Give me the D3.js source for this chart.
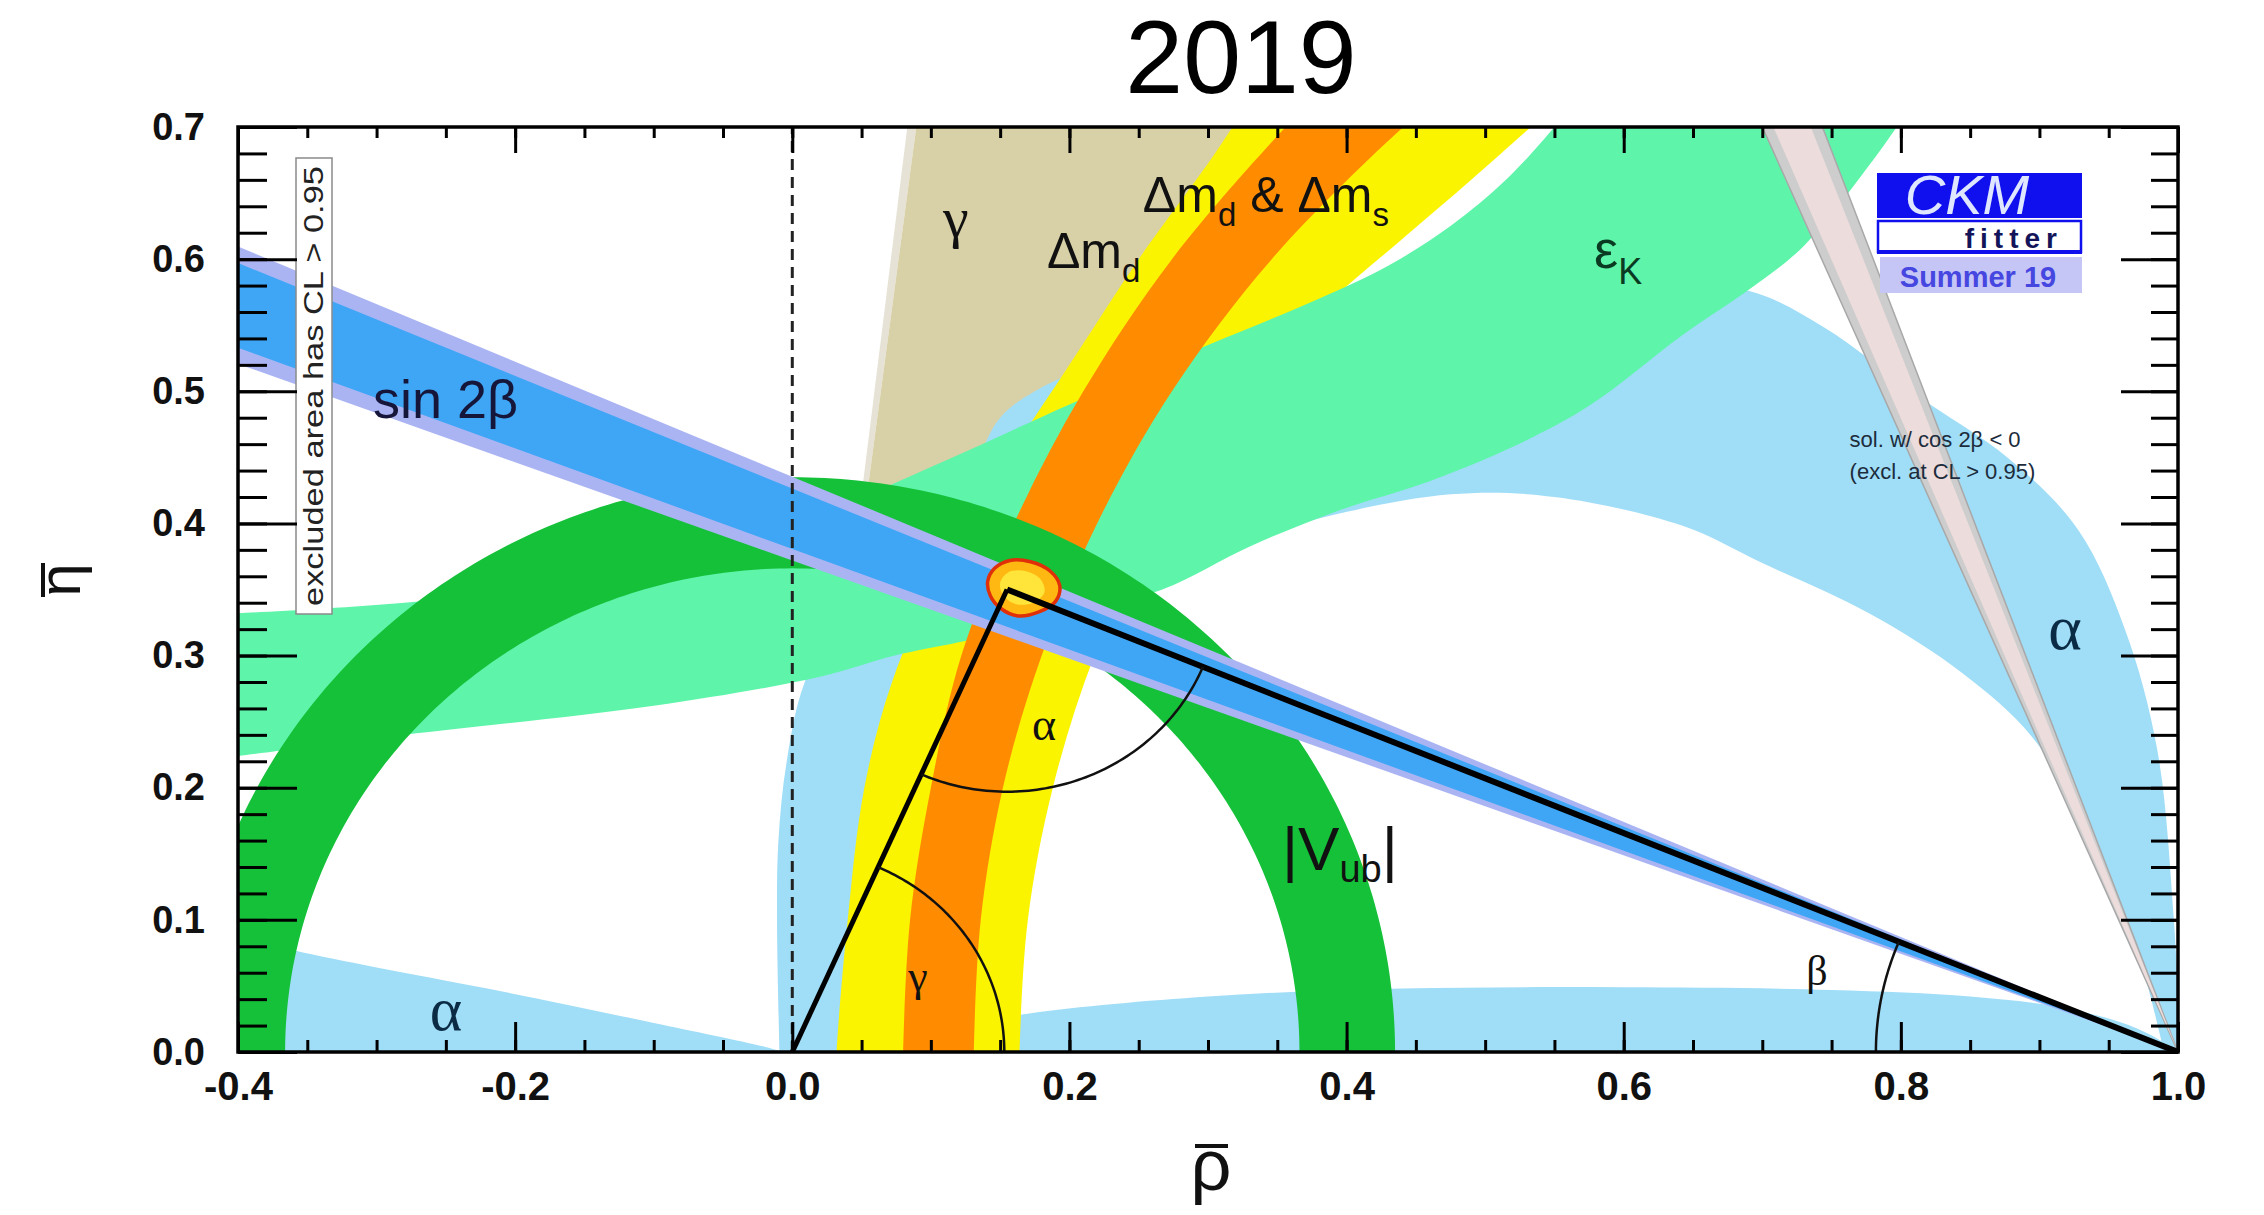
<!DOCTYPE html>
<html>
<head>
<meta charset="utf-8">
<script src="https://cdn.jsdelivr.net/npm/d3@7"></script>
<style>
  body { margin: 0; background: #fff; }
  text { font-family: "Liberation Sans", Arial, Helvetica, sans-serif; }
  .serif { font-family: "Liberation Serif", "DejaVu Serif", serif; }
</style>
</head>
<body>
<svg id="chart" width="2264" height="1215"></svg>
<script>
// ---------- axis ranges and ticks ----------
const rhoDomain = [-0.4, 1.0];
const etaDomain = [0.0, 0.7];
const rhoMajorTicks = [-0.4, -0.2, 0.0, 0.2, 0.4, 0.6, 0.8, 1.0];
const etaMajorTicks = [0.0, 0.1, 0.2, 0.3, 0.4, 0.5, 0.6, 0.7];
const rhoMinorStep = 0.05;
const etaMinorStep = 0.02;

// ---------- unitarity triangle ----------
const apex = [0.155, 0.350];
const triangleBase = [[0, 0], [1, 0]];

// ---------- |Vub| ring centred on the origin: inner / outer radius ----------
const vubCentre = [0, 0];
const vubRadii = [0.366, 0.435];

// ---------- Δm_d band edges ----------
const dmdLeft = [[0.032, -0.01], [0.032, 0.0], [0.040, 0.10], [0.052, 0.20], [0.072, 0.28], [0.105, 0.36],
  [0.150, 0.44], [0.200, 0.52], [0.250, 0.60], [0.305, 0.68], [0.330, 0.72]];
const dmdRight = [[0.164, -0.01], [0.164, 0.0], [0.170, 0.10], [0.188, 0.20], [0.218, 0.30], [0.262, 0.40],
  [0.323, 0.50], [0.390, 0.57], [0.440, 0.615], [0.490, 0.66], [0.533, 0.70], [0.555, 0.72]];

// ---------- Δm_d & Δm_s band edges ----------
const dmsLeft = [[0.080, -0.01], [0.080, 0.0], [0.085, 0.10], [0.100, 0.20], [0.122, 0.30], [0.160, 0.40],
  [0.210, 0.50], [0.274, 0.60], [0.356, 0.70], [0.375, 0.72]];
const dmsRight = [[0.131, -0.01], [0.131, 0.0], [0.136, 0.10], [0.152, 0.20], [0.180, 0.30], [0.220, 0.40],
  [0.274, 0.50], [0.346, 0.60], [0.441, 0.70], [0.465, 0.72]];

// ---------- sin 2β wedge: edges from (1,0) to the left border ----------
const sin2bOuterEdge = [[[1, 0], [-0.4, 0.6095]], [[1, 0], [-0.4, 0.5207]]];
const sin2bInnerEdge = [[[1, 0], [-0.4, 0.597]], [[1, 0], [-0.4, 0.533]]];

// second sin 2β solution (cos 2β < 0), edges from (1,0) to the top border
const cos2bOuterEdge = [[[1, 0], [0.700, 0.7]], [[1, 0], [0.7434, 0.7]]];
const cos2bInnerEdge = [[[1, 0], [0.708, 0.7]], [[1, 0], [0.735, 0.7]]];

// ---------- γ wedge from the origin ----------
const gammaHaloEdge = [[[0, 0], [0.083, 0.7]], [[0, 0], [0.0895, 0.7]]];
const gammaEdge = [[[0, 0], [0.0895, 0.7]], [[0, 0], [0.35, 0.7]]];

// ---------- ε_K band ----------
const epsLower = [[-0.42, 0.222], [-0.4, 0.224], [-0.28, 0.240], [-0.1, 0.262], [0.02, 0.284],
  [0.074, 0.300], [0.12, 0.310], [0.2, 0.330], [0.267, 0.350], [0.331, 0.383], [0.395, 0.410],
  [0.46, 0.432], [0.52, 0.458], [0.575, 0.489], [0.643, 0.543], [0.693, 0.579], [0.73, 0.61],
  [0.78, 0.675], [0.81, 0.72]];
const epsUpper = [[-0.42, 0.331], [-0.4, 0.332], [-0.28, 0.340], [-0.15, 0.355], [-0.05, 0.38],
  [0.05, 0.42], [0.12, 0.452], [0.2, 0.49], [0.3, 0.535], [0.38, 0.57], [0.43, 0.595],
  [0.475, 0.625], [0.515, 0.66], [0.55, 0.70], [0.565, 0.72]];

// ---------- α regions ----------
const alphaArcOuter = [[-0.009, -0.01], [-0.011, 0.10], [-0.010, 0.16], [-0.004, 0.22], [0.009, 0.28],
  [0.04, 0.34], [0.09, 0.40], [0.131, 0.446], [0.150, 0.48], [0.175, 0.50], [0.24, 0.53], [0.30, 0.55],
  [0.42, 0.575], [0.50, 0.58], [0.60, 0.582], [0.69, 0.576], [0.745, 0.548], [0.81, 0.498],
  [0.878, 0.449], [0.928, 0.395], [0.962, 0.319], [0.985, 0.229], [0.997, 0.10], [1.002, -0.01]];
const alphaArcInner = [[0.035, -0.01], [0.045, 0.10], [0.075, 0.20], [0.175, 0.30], [0.246, 0.35],
  [0.31, 0.38], [0.366, 0.40], [0.475, 0.422], [0.55, 0.42], [0.643, 0.398], [0.70, 0.37],
  [0.777, 0.332], [0.844, 0.287], [0.895, 0.238], [0.938, 0.161], [0.972, 0.072], [0.992, -0.01]];
const alphaLowLeftTop = [[-0.42, 0.092], [-0.4, 0.088], [-0.36, 0.077], [-0.3, 0.064], [-0.22, 0.048],
  [-0.1, 0.022], [-0.02, 0.004], [0.0, -0.002]];
const alphaLowLeftBottom = [[-0.42, -0.01], [0.0, -0.01]];
const alphaLowRightTop = [[0.03, -0.005], [0.10, 0.015], [0.17, 0.029], [0.30, 0.042], [0.44, 0.048],
  [0.60, 0.049], [0.75, 0.047], [0.85, 0.042], [0.92, 0.033], [0.97, 0.018], [1.0, 0.0], [1.01, -0.01]];
const alphaLowRightBottom = [[0.03, -0.01], [1.01, -0.01]];

// ---------- global fit region around the apex ----------
const fitOuter = [[0.141, 0.356], [0.146, 0.366], [0.157, 0.372], [0.172, 0.371], [0.186, 0.364],
  [0.193, 0.353], [0.190, 0.341], [0.178, 0.333], [0.163, 0.330], [0.150, 0.336], [0.143, 0.345]];
const fitInner = [[0.150, 0.355], [0.156, 0.363], [0.168, 0.364], [0.179, 0.358], [0.182, 0.348],
  [0.174, 0.340], [0.161, 0.339], [0.152, 0.346]];

// ---------- angle markers (radius in ρ-η units) ----------
const angleRadius = { gamma: 0.153, alpha: 0.153, beta: 0.218 };

// ---------- colours ----------
const col = {
  gamma: "#d8d0a6", gammaHalo: "#e6e3d6",
  alpha: "#a0ddf7",
  dmd: "#fbf400", dms: "#ff8c00",
  eps: "#5ef5aa",
  vub: "#16c13a",
  sinOuter: "#aab4f3", sinInner: "#3fa6f6",
  cosOuter: "#cdcdcd", cosInner: "#ecdcdc",
  fitOuter: "#ffb812", fitLine: "#e0300a", fitInner: "#ffe43a"
};

// ---------- layout ----------
const X0 = 238, X1 = 2178, Y0 = 1052, Y1 = 127;
const x = d3.scaleLinear().domain(rhoDomain).range([X0, X1]);
const y = d3.scaleLinear().domain(etaDomain).range([Y0, Y1]);

const svg = d3.select("#chart");
svg.append("rect").attr("width", 2264).attr("height", 1215).attr("fill", "#fff");
svg.append("defs").append("clipPath").attr("id", "plotClip")
  .append("rect").attr("x", X0).attr("y", Y1).attr("width", X1 - X0).attr("height", Y0 - Y1);
const plot = svg.append("g").attr("clip-path", "url(#plotClip)");

const smooth = d3.line().x(d => x(d[0])).y(d => y(d[1])).curve(d3.curveCatmullRom.alpha(0.5));
const straight = d3.line().x(d => x(d[0])).y(d => y(d[1]));
const closedSmooth = d3.line().x(d => x(d[0])).y(d => y(d[1])).curve(d3.curveCatmullRomClosed.alpha(0.5));

// closed area between two edges
function band(edgeA, edgeB, gen) {
  const a = gen(edgeA);
  const b = gen(edgeB.slice().reverse());
  return a + "L" + b.slice(1) + "Z";
}
function arcPoints(c, r, t0, t1, n) {
  return d3.range(n + 1).map(i => {
    const t = t0 + (t1 - t0) * i / n;
    return [c[0] + r * Math.cos(t), c[1] + r * Math.sin(t)];
  });
}
function ring(c, radii, t0, t1) {
  return band(arcPoints(c, radii[1], t0, t1, 240), arcPoints(c, radii[0], t0, t1, 240), straight);
}

// γ
plot.append("path").attr("d", band(gammaHaloEdge[0], gammaHaloEdge[1], straight)).attr("fill", col.gammaHalo);
plot.append("path").attr("d", band(gammaEdge[0], gammaEdge[1], straight)).attr("fill", col.gamma);
// α
plot.append("path").attr("d", band(alphaArcOuter, alphaArcInner, smooth)).attr("fill", col.alpha);
plot.append("path").attr("d", band(alphaLowLeftTop, alphaLowLeftBottom, smooth)).attr("fill", col.alpha);
plot.append("path").attr("d", band(alphaLowRightTop, alphaLowRightBottom, smooth)).attr("fill", col.alpha);
// Δm_d
plot.append("path").attr("d", band(dmdLeft, dmdRight, smooth)).attr("fill", col.dmd);
// ε_K
plot.append("path").attr("d", band(epsLower, epsUpper, smooth)).attr("fill", col.eps);
// Δm_d & Δm_s
plot.append("path").attr("d", band(dmsLeft, dmsRight, smooth)).attr("fill", col.dms);
// |Vub|
plot.append("path").attr("d", ring(vubCentre, vubRadii, -0.05, Math.PI + 0.05)).attr("fill", col.vub);
// cos 2β < 0 solution
plot.append("path").attr("d", band(cos2bOuterEdge[0], cos2bOuterEdge[1], straight))
  .attr("fill", col.cosOuter).attr("stroke", "#a8a8a8").attr("stroke-width", 1.5);
plot.append("path").attr("d", band(cos2bInnerEdge[0], cos2bInnerEdge[1], straight)).attr("fill", col.cosInner);
// sin 2β
plot.append("path").attr("d", band(sin2bOuterEdge[0], sin2bOuterEdge[1], straight)).attr("fill", col.sinOuter);
plot.append("path").attr("d", band(sin2bInnerEdge[0], sin2bInnerEdge[1], straight)).attr("fill", col.sinInner);
// global fit
plot.append("path").attr("d", closedSmooth(fitOuter)).attr("fill", col.fitOuter)
  .attr("stroke", col.fitLine).attr("stroke-width", 3.5);
plot.append("path").attr("d", closedSmooth(fitInner)).attr("fill", col.fitInner);

// ρ = 0 dashed line
plot.append("line").attr("x1", x(0)).attr("x2", x(0)).attr("y1", y(0)).attr("y2", y(0.7))
  .attr("stroke", "#222").attr("stroke-width", 3).attr("stroke-dasharray", "11 7");

// triangle
plot.append("path").attr("d", straight([triangleBase[0], apex])).attr("stroke", "#000").attr("stroke-width", 5).attr("fill", "none");
plot.append("path").attr("d", straight([apex, triangleBase[1]])).attr("stroke", "#000").attr("stroke-width", 6).attr("fill", "none");

// angle markers
const dirToApexFromO = Math.atan2(apex[1], apex[0]);
const dirApexToO = Math.atan2(-apex[1], -apex[0]);
const dirApexToOne = Math.atan2(-apex[1], 1 - apex[0]);
const dirOneToApex = Math.atan2(apex[1], apex[0] - 1);
const arcLine = pts => plot.append("path").attr("d", straight(pts)).attr("fill", "none")
  .attr("stroke", "#111").attr("stroke-width", 2.5);
arcLine(arcPoints(triangleBase[0], angleRadius.gamma, 0, dirToApexFromO, 80));
arcLine(arcPoints(apex, angleRadius.alpha, dirApexToO, dirApexToOne, 80));
arcLine(arcPoints(triangleBase[1], angleRadius.beta, dirOneToApex, Math.PI, 60));

// ---------- constraint labels ----------
const lab = svg.append("g");
function addText(rho, eta, str, size, opts = {}) {
  const t = lab.append("text").attr("x", x(rho)).attr("y", y(eta)).attr("font-size", size)
    .attr("fill", opts.fill || "#111").attr("text-anchor", opts.anchor || "start");
  if (opts.serif) t.attr("class", "serif");
  if (str) t.text(str);
  return t;
}
addText(-0.3026, 0.4798, "sin 2β", 54, { fill: "#16163a" });
addText(0.118, 0.6168, "γ", 58, { anchor: "middle", serif: true });
{
  const t = addText(0.253, 0.6357, "", 50);
  t.append("tspan").text("Δm");
  t.append("tspan").attr("font-size", 33).attr("dy", 14).text("d");
  t.append("tspan").attr("dy", -14).text(" & Δm");
  t.append("tspan").attr("font-size", 33).attr("dy", 14).text("s");
}
{
  const t = addText(0.1838, 0.5933, "", 50);
  t.append("tspan").text("Δm");
  t.append("tspan").attr("font-size", 33).attr("dy", 14).text("d");
}
{
  const t = addText(0.5786, 0.593, "", 54, { fill: "#0b3a22" });
  t.append("tspan").text("ε");
  t.append("tspan").attr("font-size", 36).attr("dy", 16).text("K");
}
{
  const t = addText(0.3534, 0.1377, "", 62);
  t.append("tspan").text("|V");
  t.append("tspan").attr("font-size", 38).attr("dy", 12).text("ub");
  t.append("tspan").attr("dy", -12).text("|");
}
addText(0.9185, 0.305, "α", 64, { anchor: "middle", serif: true, fill: "#0b2a44" });
addText(-0.2499, 0.0166, "α", 62, { anchor: "middle", serif: true, fill: "#0b2a44" });
addText(0.1817, 0.236, "α", 46, { anchor: "middle", serif: true });
addText(0.0907, 0.046, "γ", 44, { anchor: "middle", serif: true });
addText(0.7395, 0.0507, "β", 42, { anchor: "middle", serif: true });
addText(0.763, 0.4578, "sol. w/ cos 2β < 0", 22, { fill: "#1c2c3c" });
addText(0.763, 0.4336, "(excl. at CL > 0.95)", 22, { fill: "#1c2c3c" });

// excluded-area note in a rotated box
const note = svg.append("g").attr("transform", "translate(314,386) rotate(-90)");
note.append("rect").attr("x", -228).attr("y", -18).attr("width", 456).attr("height", 36)
  .attr("fill", "#fff").attr("stroke", "#8a8a8a").attr("stroke-width", 1.5);
note.append("text").attr("x", 0).attr("y", 9).attr("text-anchor", "middle").attr("font-size", 27)
  .attr("textLength", 440).attr("lengthAdjust", "spacingAndGlyphs").attr("fill", "#222")
  .text("excluded area has CL > 0.95");

// CKMfitter badge
const logo = svg.append("g");
logo.append("rect").attr("x", 1877).attr("y", 173).attr("width", 205).attr("height", 45).attr("fill", "#1010ee");
logo.append("text").attr("x", 1967).attr("y", 214).attr("text-anchor", "middle").attr("font-size", 56)
  .attr("font-style", "italic").attr("fill", "#dfe6ff").text("CKM");
logo.append("rect").attr("x", 1878).attr("y", 221).attr("width", 203).attr("height", 31)
  .attr("fill", "#fff").attr("stroke", "#1010ee").attr("stroke-width", 2.5);
logo.append("line").attr("x1", 1877).attr("x2", 2082).attr("y1", 252).attr("y2", 252)
  .attr("stroke", "#1010ee").attr("stroke-width", 4);
logo.append("text").attr("x", 2063).attr("y", 248).attr("text-anchor", "end").attr("font-size", 28)
  .attr("font-weight", "bold").attr("letter-spacing", 6).attr("fill", "#14145a").text("fitter");
logo.append("rect").attr("x", 1880).attr("y", 257).attr("width", 202).attr("height", 36).attr("fill", "#c6c6f6");
logo.append("text").attr("x", 1978).attr("y", 287).attr("text-anchor", "middle").attr("font-size", 29)
  .attr("font-weight", "bold").attr("fill", "#4646e0").text("Summer 19");

// ---------- frame and axes ----------
const rhoMinor = d3.range(rhoDomain[0], rhoDomain[1] + 1e-6, rhoMinorStep).map(v => +v.toFixed(2));
const etaMinor = d3.range(etaDomain[0], etaDomain[1] + 1e-6, etaMinorStep).map(v => +v.toFixed(2));
const fmt = d => d.toFixed(1);

function tidy(g) {
  g.select(".domain").remove();
  g.selectAll(".tick line").attr("stroke", "#000").attr("stroke-width", 3);
  g.selectAll(".tick text").attr("font-weight", "bold").attr("fill", "#111")
    .attr("font-family", "'Liberation Sans', Arial, sans-serif");
}
const axes = svg.append("g");
axes.append("g").attr("transform", `translate(0,${Y0})`)
  .call(d3.axisBottom(x).tickValues(rhoMinor).tickSize(-12).tickFormat("")).call(tidy);
axes.append("g").attr("transform", `translate(0,${Y0})`)
  .call(d3.axisBottom(x).tickValues(rhoMajorTicks).tickSize(-30).tickPadding(20).tickFormat(fmt))
  .call(tidy).selectAll(".tick text").attr("font-size", 40);
axes.append("g").attr("transform", `translate(0,${Y1})`)
  .call(d3.axisTop(x).tickValues(rhoMinor).tickSize(-11).tickFormat("")).call(tidy);
axes.append("g").attr("transform", `translate(0,${Y1})`)
  .call(d3.axisTop(x).tickValues(rhoMajorTicks).tickSize(-26).tickFormat("")).call(tidy);
axes.append("g").attr("transform", `translate(${X0},0)`)
  .call(d3.axisLeft(y).tickValues(etaMinor).tickSize(-29).tickFormat("")).call(tidy);
axes.append("g").attr("transform", `translate(${X0},0)`)
  .call(d3.axisLeft(y).tickValues(etaMajorTicks).tickSize(-59).tickPadding(33).tickFormat(fmt))
  .call(tidy).selectAll(".tick text").attr("font-size", 38);
axes.append("g").attr("transform", `translate(${X1},0)`)
  .call(d3.axisRight(y).tickValues(etaMinor).tickSize(-27).tickFormat("")).call(tidy);
axes.append("g").attr("transform", `translate(${X1},0)`)
  .call(d3.axisRight(y).tickValues(etaMajorTicks).tickSize(-57).tickFormat("")).call(tidy);
axes.append("rect").attr("x", X0).attr("y", Y1).attr("width", X1 - X0).attr("height", Y0 - Y1)
  .attr("fill", "none").attr("stroke", "#000").attr("stroke-width", 3.5);

// axis titles
svg.append("text").attr("x", 1211).attr("y", 1190).attr("text-anchor", "middle").attr("font-size", 72)
  .attr("fill", "#111").text("ρ");
svg.append("line").attr("x1", 1195).attr("x2", 1228).attr("y1", 1146).attr("y2", 1146)
  .attr("stroke", "#111").attr("stroke-width", 4);
const etaTitle = svg.append("g").attr("transform", "translate(80,580) rotate(-90)");
etaTitle.append("text").attr("x", 0).attr("y", 0).attr("text-anchor", "middle").attr("font-size", 60)
  .attr("fill", "#111").text("η");
etaTitle.append("line").attr("x1", -17).attr("x2", 17).attr("y1", -37).attr("y2", -37)
  .attr("stroke", "#111").attr("stroke-width", 4);

// title
svg.append("text").attr("x", 1241).attr("y", 93).attr("text-anchor", "middle").attr("font-size", 104)
  .attr("fill", "#000").text("2019");
</script>
</body>
</html>
